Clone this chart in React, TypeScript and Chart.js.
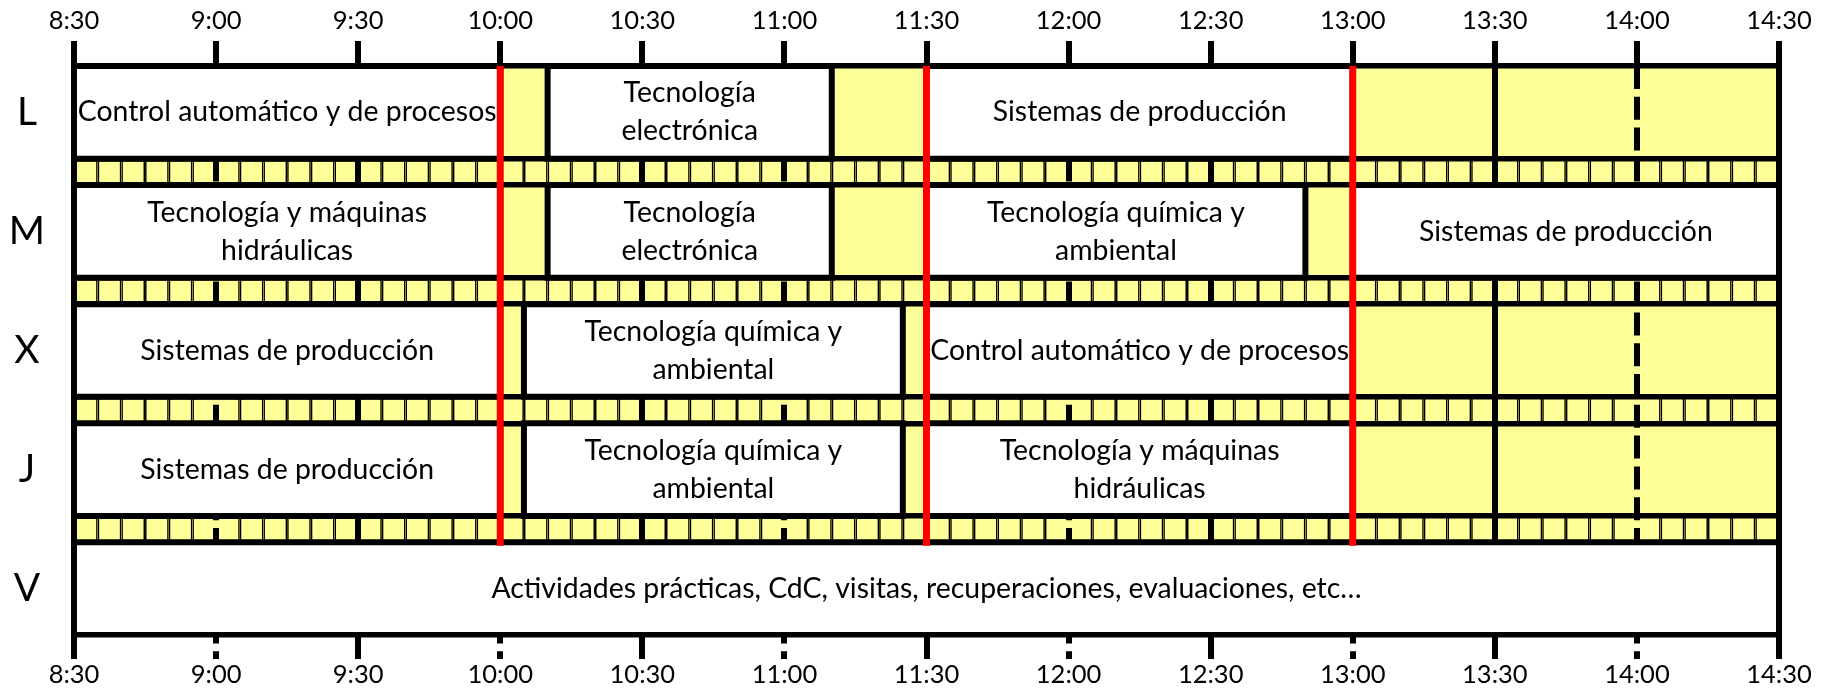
import React, { useEffect, useRef } from 'react';
import { Chart, registerables } from 'chart.js';

Chart.register(...registerables);
Chart.defaults.font.family = "Lato, 'Open Sans', sans-serif";
Chart.defaults.color = '#000';

// ---------------- data ----------------
const days = ['L', 'M', 'X', 'J', 'V'];
const timeTicks = ['8:30', '9:00', '9:30', '10:00', '10:30', '11:00', '11:30', '12:00', '12:30', '13:00', '13:30', '14:00', '14:30'];
const breakLines = ['10:00', '11:30', '13:00'];
const breakLineDayCount = 4; // red lines run through L, M, X, J
const slotMinutes = 5;

type Block = [string, string, string];
const lunes: Block[] = [
  ['Control automático y de procesos', '8:30', '10:00'],
  ['Tecnología\nelectrónica', '10:10', '11:10'],
  ['Sistemas de producción', '11:30', '13:00'],
];
const martes: Block[] = [
  ['Tecnología y máquinas\nhidráulicas', '8:30', '10:00'],
  ['Tecnología\nelectrónica', '10:10', '11:10'],
  ['Tecnología química y\nambiental', '11:30', '12:50'],
  ['Sistemas de producción', '13:00', '14:30'],
];
const miercoles: Block[] = [
  ['Sistemas de producción', '8:30', '10:00'],
  ['Tecnología química y\nambiental', '10:05', '11:25'],
  ['Control automático y de procesos', '11:30', '13:00'],
];
const jueves: Block[] = [
  ['Sistemas de producción', '8:30', '10:00'],
  ['Tecnología química y\nambiental', '10:05', '11:25'],
  ['Tecnología y máquinas\nhidráulicas', '11:30', '13:00'],
];
const viernes: Block[] = [
  ['Actividades prácticas, CdC, visitas, recuperaciones, evaluaciones, etc…', '8:30', '14:30'],
];
const schedule = [lunes, martes, miercoles, jueves, viernes];

// ---------------- layout / style ----------------
const ROW = 7;
const GAP = 2;
const PERIOD = ROW + GAP;
const Y_MAX = days.length * ROW + (days.length - 1) * GAP;
const YELLOW = '#FFFF99';
const BLACK = '#000000';
const RED = '#FF0000';
const DASH = [23, 7.8];
const LINE_H = 38;
const TEXT_FONT = "28.4px Lato, 'Open Sans', sans-serif";

const toMin = (s: string) => {
  const [h, m] = s.split(':').map(Number);
  return h * 60 + m;
};
const tickValues = timeTicks.map(toMin);
const X_MIN = tickValues[0];
const X_MAX = tickValues[tickValues.length - 1];
const rowCenter = (i: number) => i * PERIOD + ROW / 2;
const gapCenter = (i: number) => i * PERIOD + ROW + GAP / 2;
const boundaries = days.flatMap((_, i) => [i * PERIOD, i * PERIOD + ROW]);
const isHour = (c: any) => !!(c && c.tick && c.tick.value % 60 === 0);

const blockData = schedule.flatMap((list, d) =>
  list.map(([label, s, e]) => ({ x: [toMin(s), toMin(e)], y: rowCenter(d), label }))
);
const slotData: { x: number[]; y: number }[] = [];
for (let g = 0; g < days.length - 1; g++) {
  for (let t = X_MIN; t < X_MAX; t += slotMinutes) slotData.push({ x: [t, t + slotMinutes], y: gapCenter(g) });
}

const BLOCKS_INDEX = 1;

const bgPlugin = {
  id: 'freeTimeBg',
  beforeDraw(chart: any) {
    const { ctx, chartArea: a } = chart;
    ctx.save();
    ctx.fillStyle = YELLOW;
    ctx.fillRect(a.left, a.top, a.right - a.left, a.bottom - a.top);
    ctx.restore();
  },
};

const labelPlugin = {
  id: 'blockLabels',
  afterDatasetDraw(chart: any, args: any) {
    if (args.index !== BLOCKS_INDEX) return;
    const ctx = chart.ctx;
    const data = chart.data.datasets[BLOCKS_INDEX].data;
    ctx.save();
    ctx.font = TEXT_FONT;
    ctx.fillStyle = '#000';
    ctx.textAlign = 'center';
    ctx.textBaseline = 'middle';
    args.meta.data.forEach((el: any, i: number) => {
      const { x, base, y } = el.getProps(['x', 'base', 'y'], true);
      const lines = String(data[i].label).split('\n');
      lines.forEach((ln: string, j: number) => {
        ctx.fillText(ln, (x + base) / 2, y + (j - (lines.length - 1) / 2) * LINE_H);
      });
    });
    ctx.restore();
  },
};

export default function App() {
  const ref = useRef<HTMLCanvasElement>(null);

  useEffect(() => {
    const rowPct = ROW / (PERIOD / 2);
    const gapPct = GAP / (PERIOD / 2);
    const datasets: any[] = [
      {
        type: 'bar',
        label: 'outline',
        data: blockData,
        backgroundColor: BLACK,
        borderWidth: 0,
        inflateAmount: 3,
        grouped: false,
        categoryPercentage: 1,
        barPercentage: rowPct,
        order: 5,
        xAxisID: 'x',
        yAxisID: 'y',
      },
      {
        type: 'bar',
        label: 'blocks',
        data: blockData,
        backgroundColor: '#FFFFFF',
        borderColor: BLACK,
        borderWidth: 3,
        borderSkipped: false,
        inflateAmount: 0,
        grouped: false,
        categoryPercentage: 1,
        barPercentage: rowPct,
        order: 3,
        xAxisID: 'x',
        yAxisID: 'y',
      },
      {
        type: 'bar',
        label: 'slots',
        data: slotData,
        backgroundColor: 'rgba(0,0,0,0)',
        borderColor: BLACK,
        borderSkipped: false,
        borderWidth: (c: any) => {
          const r = c && c.raw;
          if (!r) return 0;
          const [s, e] = r.x;
          return { top: 0, bottom: 0, left: s % 30 === 0 ? 0 : 1.5, right: e % 30 === 0 ? 0 : 1.5 };
        },
        inflateAmount: 0,
        grouped: false,
        categoryPercentage: 1,
        barPercentage: gapPct,
        order: 4,
        xAxisID: 'x',
        yAxisID: 'y',
      },
      ...breakLines.map((t) => ({
        type: 'line',
        label: 'break ' + t,
        data: [
          { x: toMin(t), y: 0 },
          { x: toMin(t), y: breakLineDayCount * PERIOD },
        ],
        borderColor: RED,
        borderWidth: 7,
        borderCapStyle: 'square',
        pointRadius: 0,
        fill: false,
        order: 1,
        xAxisID: 'x',
        yAxisID: 'y',
      })),
    ];

    const chart = new Chart(ref.current as HTMLCanvasElement, {
      type: 'bar',
      data: { datasets },
      plugins: [bgPlugin, labelPlugin],
      options: {
        indexAxis: 'y',
        animation: false,
        responsive: false,
        devicePixelRatio: 1,
        events: [],
        layout: { padding: { left: 0, right: 42, top: 0, bottom: 0 } },
        plugins: { legend: { display: false }, tooltip: { enabled: false } },
        scales: {
          x: {
            type: 'linear',
            position: 'bottom',
            min: X_MIN,
            max: X_MAX,
            offset: false,
            beginAtZero: false,
            afterBuildTicks: (s: any) => {
              s.ticks = tickValues.map((v) => ({ value: v }));
            },
            afterFit: (s: any) => {
              s.height = 59;
            },
            ticks: {
              callback: (_v: any, i: number) => timeTicks[i],
              autoSkip: false,
              maxRotation: 0,
              padding: 0,
              font: { size: 25.5 },
              color: '#000',
            },
            grid: {
              color: BLACK,
              lineWidth: 6,
              drawOnChartArea: true,
              offset: false,
              tickLength: 24,
              tickWidth: 6,
              tickColor: BLACK,
              tickBorderDash: (c: any) => (isHour(c) ? DASH : []),
              tickBorderDashOffset: 14.6,
            },
            border: { display: false, dash: (c: any) => (isHour(c) ? DASH : []), dashOffset: 0 },
          },
          x2: {
            type: 'linear',
            position: 'top',
            display: true,
            min: X_MIN,
            max: X_MAX,
            offset: false,
            beginAtZero: false,
            afterBuildTicks: (s: any) => {
              s.ticks = tickValues.map((v) => ({ value: v }));
            },
            afterFit: (s: any) => {
              s.height = 66;
            },
            ticks: {
              callback: (_v: any, i: number) => timeTicks[i],
              autoSkip: false,
              maxRotation: 0,
              padding: 5,
              font: { size: 25.5 },
              color: '#000',
            },
            grid: {
              color: BLACK,
              lineWidth: 6,
              drawOnChartArea: false,
              offset: false,
              tickLength: 25,
              tickWidth: 6,
              tickColor: BLACK,
            },
            border: { display: false },
          },
          y: {
            type: 'linear',
            position: 'left',
            min: 0,
            max: Y_MAX,
            reverse: true,
            offset: false,
            afterBuildTicks: (s: any) => {
              s.ticks = days.map((_, i) => ({ value: rowCenter(i) }));
            },
            afterFit: (s: any) => {
              s.width = 74;
            },
            ticks: {
              callback: (_v: any, i: number) => days[i],
              crossAlign: 'center',
              padding: 29,
              autoSkip: false,
              font: { size: 39 },
              color: '#000',
            },
            grid: { display: false, drawTicks: false, offset: false },
            border: { display: false },
          },
          yb: {
            type: 'linear',
            position: 'left',
            display: true,
            min: 0,
            max: Y_MAX,
            reverse: true,
            offset: false,
            afterBuildTicks: (s: any) => {
              s.ticks = boundaries.map((v) => ({ value: v }));
            },
            afterFit: (s: any) => {
              s.width = 0;
            },
            ticks: { display: false },
            grid: { color: BLACK, lineWidth: 5.5, drawTicks: false, offset: false },
            border: { display: false },
          },
        },
      } as any,
    } as any);

    return () => chart.destroy();
  }, []);

  return (
    <div style={{ position: 'absolute', left: 0, top: 0, width: 1821, height: 694, background: '#fff' }}>
      <canvas ref={ref} width={1821} height={694} style={{ display: 'block', width: 1821, height: 694 }} />
    </div>
  );
}
